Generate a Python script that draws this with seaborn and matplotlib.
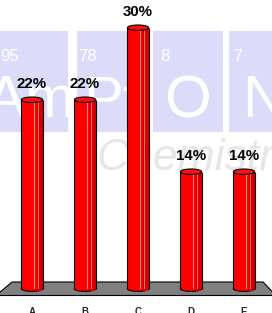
import matplotlib
matplotlib.use("Agg")
import matplotlib.pyplot as plt
import seaborn as sns
import pandas as pd
from matplotlib.patches import Rectangle, Ellipse, Polygon
from matplotlib import font_manager

# ---------------- data ----------------
categories = ["A", "B", "C", "D", "E"]
values = [22, 22, 30, 14, 14]
value_labels = ["22%", "22%", "30%", "14%", "14%"]
tile_numbers = ["95", "78", "8", "7"]
tile_symbols = ["Am", "Pt", "O", "N"]
watermark_word = "Chemistry"

W, H = 272, 313
sns.set_theme(style="white")
plt.rcParams['font.family'] = ['Liberation Sans', 'DejaVu Sans']


def has_font(name):
    try:
        font_manager.findfont(font_manager.FontProperties(family=name),
                              fallback_to_default=False)
        return True
    except Exception:
        return False


if has_font('Liberation Sans Narrow'):
    sym_family, sym_size = ['Liberation Sans Narrow', 'DejaVu Sans'], 46
else:
    sym_family, sym_size = ['Liberation Sans', 'DejaVu Sans'], 43

fig = plt.figure(figsize=(W / 100, H / 100), dpi=100)
fig.patch.set_facecolor('white')


def fx(px):
    return px / W


def fy(py):
    return 1 - py / H


# ---------------- watermark ----------------
tiles_px = [(-5, 68), (77, 148), (153, 223), (229, 300)]
num_x = [0, 78, 160, 233]
for (l, r), num, sym, nx in zip(tiles_px, tile_numbers, tile_symbols, num_x):
    fig.add_artist(Rectangle((fx(l), fy(132)), (r - l) / W, (132 - 31) / H,
                             transform=fig.transFigure, facecolor='#dcdcfa',
                             edgecolor='none', zorder=-2))
    fig.text(fx(nx), fy(49), num, ha='left', va='top', fontsize=12,
             color='white', zorder=-1)
    fig.text(fx((l + r) / 2 - 1), fy(117), sym, ha='center', va='baseline',
             fontsize=sym_size, color='white', family=sym_family, zorder=-1)
fig.text(fx(97), fy(170), watermark_word, ha='left', va='baseline',
         fontsize=32, style='italic', color='#e6e6e6', zorder=-1)

# ---------------- axes ----------------
PX_PER_X = 53.0
X0_PX = 32.0
PX_PER_Y = 9.0
Y0_PX = 295.0
ax_bottom_px = 300
ax = fig.add_axes([0, (H - ax_bottom_px) / H, 1, ax_bottom_px / H])
ax.patch.set_alpha(0)

df = pd.DataFrame({"cat": categories, "val": values})
sns.barplot(data=df, x="cat", y="val", color="#ff0000", width=0.4,
            saturation=1, edgecolor='none', linewidth=0, ax=ax)
bars = list(ax.patches)

ax.set_xlim(-X0_PX / PX_PER_X, (W - X0_PX) / PX_PER_X)
ax.set_ylim((Y0_PX - ax_bottom_px) / PX_PER_Y, Y0_PX / PX_PER_Y)


def dx(px):
    return (px - X0_PX) / PX_PER_X


def dy(py):
    return (Y0_PX - py) / PX_PER_Y


# floor
floor = Polygon([(dx(12), dy(282)), (dx(263), dy(282)), (dx(276), dy(295.5)),
                 (dx(-4), dy(295.5))], closed=True, facecolor='#808080',
                edgecolor='black', linewidth=0.8, zorder=0.5)
ax.add_patch(floor)

ell_h = 0.6
for p, lab in zip(bars, value_labels):
    x0, w, v = p.get_x(), p.get_width(), p.get_height()
    xc = x0 + w / 2
    yb = 0.7
    yt = v - ell_h / 2
    p.set_y(yb)
    p.set_height(yt - yb)
    p.set_zorder(2)
    # bottom cap
    ax.add_patch(Ellipse((xc, yb), w, ell_h, facecolor='#ff0000',
                         edgecolor='black', linewidth=0.8, zorder=1.9))
    ax.add_patch(Rectangle((x0 + 0.72 * w, yb - ell_h * 0.45), 0.24 * w,
                           ell_h * 0.45, facecolor='#d40000', edgecolor='none',
                           zorder=1.95))
    # shading
    ax.add_patch(Rectangle((x0 + 0.72 * w, yb), 0.28 * w, yt - yb,
                           facecolor='#d40000', edgecolor='none', zorder=2.1))
    ax.add_patch(Rectangle((x0 + 0.58 * w, yb), 0.05 * w, yt - yb,
                           facecolor='#ff8c8c', edgecolor='none', zorder=2.15))
    ax.add_patch(Rectangle((x0 + 0.80 * w, yb), 0.035 * w, yt - yb,
                           facecolor='#ff6a6a', edgecolor='none', zorder=2.15))
    ax.plot([x0, x0], [yb, yt], color='black', linewidth=0.8, zorder=2.2,
            solid_capstyle='butt')
    ax.plot([x0 + w, x0 + w], [yb, yt], color='black', linewidth=0.8,
            zorder=2.2, solid_capstyle='butt')
    # top cap
    ax.add_patch(Ellipse((xc, yt), w, ell_h, facecolor='#ff1010',
                         edgecolor='black', linewidth=0.8, zorder=2.3))
    ax.annotate(lab, (xc, v), xytext=(0, 6.5), textcoords='offset points',
                ha='center', va='baseline', fontsize=10.8, fontweight='bold',
                color='black', zorder=3)

ax.set_xlabel('')
ax.set_ylabel('')
ax.set_yticks([])
ax.set_xticks(range(len(categories)))
ax.set_xticklabels(categories, fontsize=7, fontweight='bold')
ax.tick_params(axis='x', length=0, pad=5)
for s in ax.spines.values():
    s.set_visible(False)

fig.savefig('out.png', dpi=100, facecolor='white')
